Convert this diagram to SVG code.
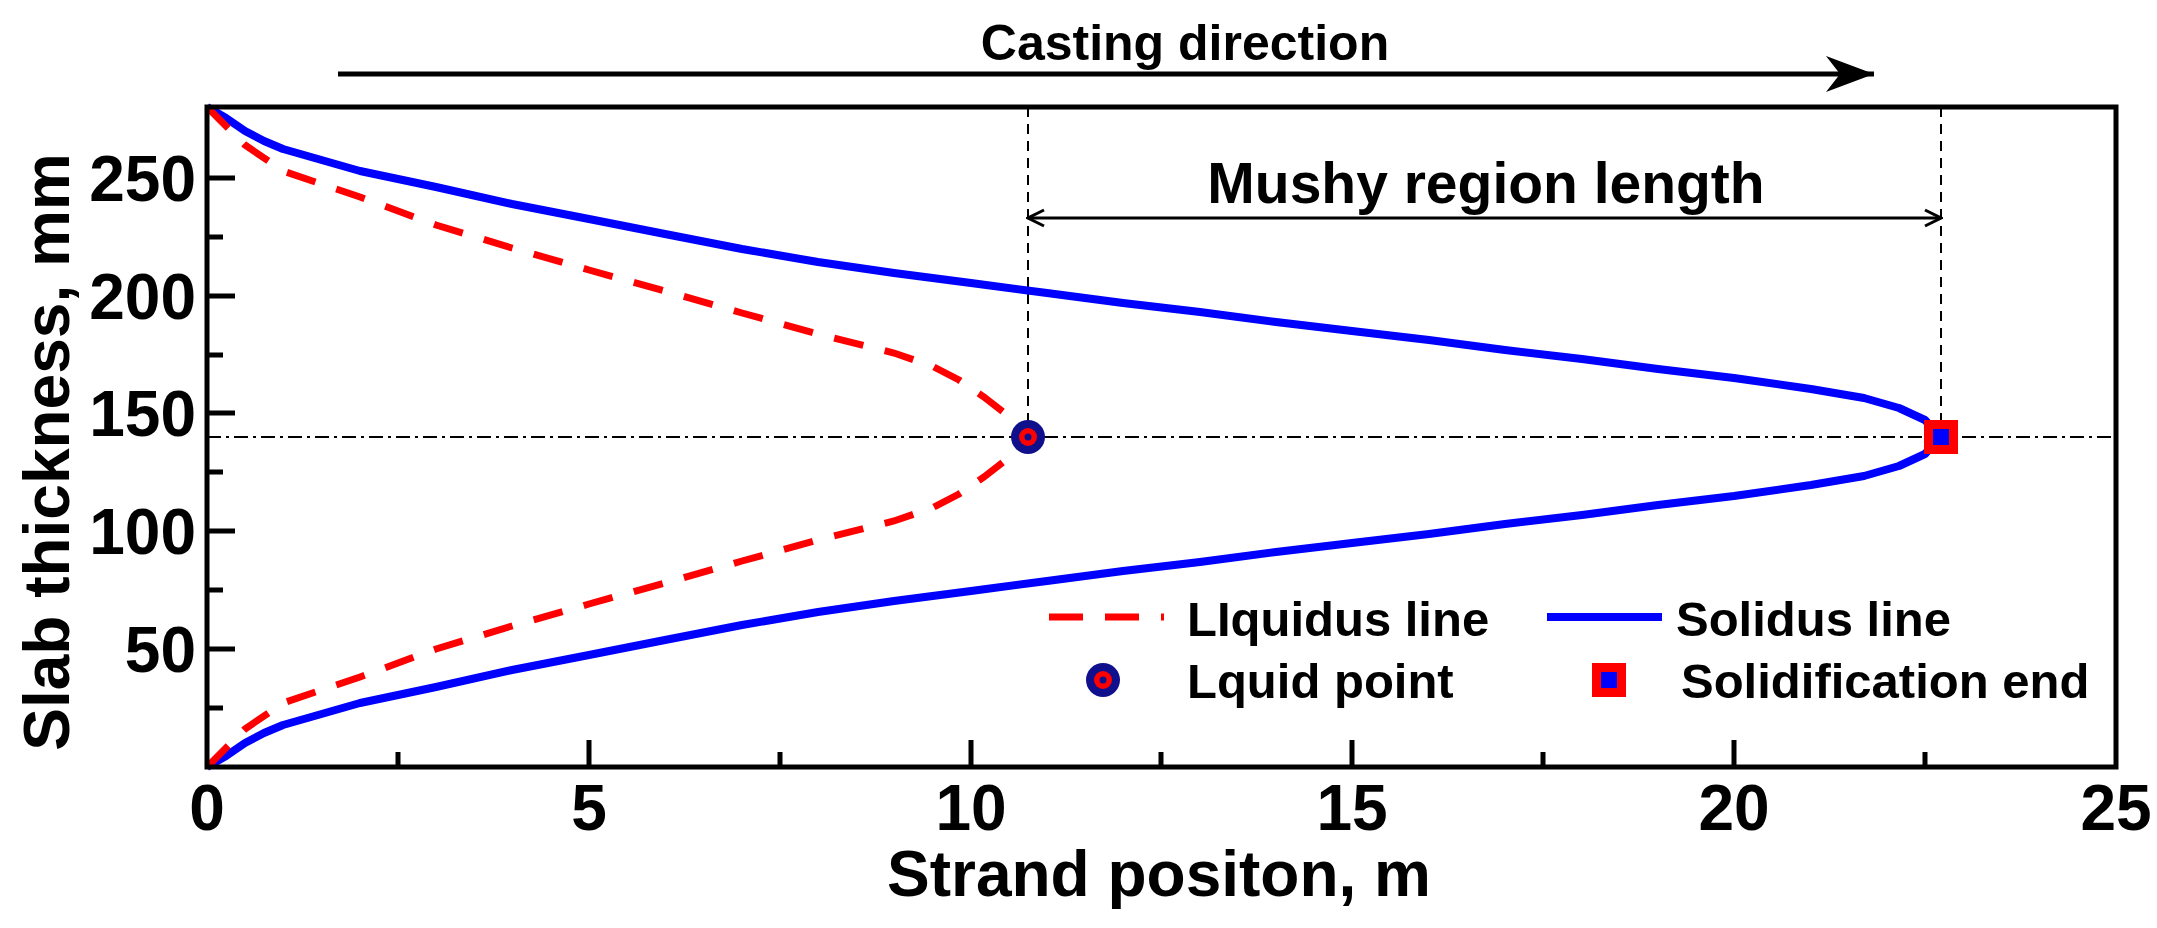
<svg xmlns="http://www.w3.org/2000/svg" width="2157" height="928" viewBox="0 0 2157 928">
<style>
text{font-family:"Liberation Sans",Arial,sans-serif;font-weight:bold;fill:#000}
.tk{font-size:64px}
.lg{font-size:49px}
.sol{fill:none;stroke:#0000ff;stroke-width:8;stroke-linejoin:round}
.liq{fill:none;stroke:#ff0000;stroke-width:7;stroke-dasharray:30 22}
.ax{stroke:#000;stroke-width:5;fill:none}
</style>
<defs>
<marker id="ah" viewBox="0 0 20 20" refX="18" refY="10" markerWidth="20" markerHeight="20" markerUnits="userSpaceOnUse" orient="auto-start-reverse"><path d="M2,2 L18,10 L2,18" fill="none" stroke="#000" stroke-width="3"/></marker>
<marker id="ah2" viewBox="0 0 50 40" refX="48" refY="20" markerWidth="50" markerHeight="40" markerUnits="userSpaceOnUse" orient="auto"><path d="M0,2 L48,20 L0,38 L14,20 Z" fill="#000"/></marker>
</defs>
<rect width="2157" height="928" fill="#fff"/>
<g transform="translate(-6,0)">
<g id="connectors">
<line x1="344" y1="74" x2="1880" y2="74" stroke="#000" stroke-width="5" marker-end="url(#ah2)"/>
<line x1="1034" y1="218" x2="1947" y2="218" stroke="#000" stroke-width="3" marker-start="url(#ah)" marker-end="url(#ah)"/>
<line x1="1034" y1="107" x2="1034" y2="437" stroke="#000" stroke-width="2" stroke-dasharray="10 7"/>
<line x1="1947" y1="107" x2="1947" y2="437" stroke="#000" stroke-width="2" stroke-dasharray="10 7"/>
<line x1="213" y1="437" x2="2122" y2="437" stroke="#000" stroke-width="2" stroke-dasharray="14 5 3 5"/>
</g>
<g id="curves">
<polyline class="sol" points="213,107 232,118 251,131 270,141 289,149 366,171 442,187 518,204 595,219 671,234 748,249 824,262 900,273 977,283 1053,293 1129,303 1206,312 1282,322 1358,331 1435,340 1511,350 1588,359 1664,369 1740,378 1817,389 1870,398 1905,408 1931,420 1946,437"/>
<polyline class="sol" points="213,767 232,756 251,743 270,733 289,725 366,703 442,687 518,670 595,655 671,640 748,625 824,612 900,601 977,591 1053,581 1129,571 1206,562 1282,552 1358,543 1435,534 1511,524 1588,515 1664,505 1740,496 1817,485 1870,476 1905,466 1931,454 1946,437"/>
<polyline class="liq" points="213,107 251,145 289,171 366,197 442,225 518,248 595,270 671,291 748,313 824,334 900,353 938,366 965,380 990,397 1012,414 1034,437"/>
<polyline class="liq" points="213,767 251,729 289,703 366,677 442,649 518,626 595,604 671,583 748,561 824,540 900,521 938,508 965,494 990,477 1012,460 1034,437"/>
</g>
<g id="liquid-point"><circle cx="1034" cy="437" r="17" fill="#10108c"/><circle cx="1034" cy="437" r="9" fill="#ff0000"/><circle cx="1034" cy="437" r="3.5" fill="#10108c"/></g>
<g id="solid-end"><rect x="1930" y="420" width="34" height="34" fill="#ff0000"/><rect x="1939" y="429" width="16" height="16" fill="#0000ff"/></g>
<g id="axes">
<rect class="ax" x="213" y="107" width="1909" height="660"/>
<path stroke="#000" stroke-width="5" d="M213,178h28M213,296h28M213,413h28M213,531h28M213,649h28M213,237h16M213,355h16M213,472h16M213,590h16M213,708h16M595,767v-27M977,767v-27M1358,767v-27M1740,767v-27M404,767v-15M786,767v-15M1167,767v-15M1549,767v-15M1931,767v-15"/>
<g class="tk" text-anchor="end"><text x="202" y="201">250</text><text x="202" y="319">200</text><text x="202" y="436">150</text><text x="202" y="554">100</text><text x="202" y="672">50</text></g>
<g class="tk" text-anchor="middle"><text x="213" y="830">0</text><text x="595" y="830">5</text><text x="977" y="830">10</text><text x="1358" y="830">15</text><text x="1740" y="830">20</text><text x="2122" y="830">25</text></g>
<text x="1165" y="896" font-size="64" text-anchor="middle">Strand positon, m</text>
<text transform="translate(75,452) rotate(-90)" font-size="64" text-anchor="middle">Slab thickness, mm</text>
</g>
<g id="titles">
<text x="1191" y="60" font-size="50" text-anchor="middle">Casting direction</text>
<text x="1492" y="203" font-size="57" text-anchor="middle">Mushy region length</text>
</g>
<g id="legend">
<line x1="1055" y1="617" x2="1170" y2="617" stroke="#ff0000" stroke-width="7" stroke-dasharray="34 22"/>
<text class="lg" x="1193" y="636">LIquidus line</text>
<line x1="1553" y1="617" x2="1668" y2="617" stroke="#0000ff" stroke-width="8"/>
<text class="lg" x="1682" y="636">Solidus line</text>
<circle cx="1109" cy="680" r="17" fill="#10108c"/><circle cx="1109" cy="680" r="9" fill="#ff0000"/><circle cx="1109" cy="680" r="3.5" fill="#10108c"/>
<text class="lg" x="1193" y="698">Lquid point</text>
<rect x="1598" y="663" width="34" height="34" fill="#ff0000"/><rect x="1607" y="672" width="16" height="16" fill="#0000ff"/>
<text class="lg" x="1687" y="698">Solidification end</text>
</g>
</g>
</svg>
